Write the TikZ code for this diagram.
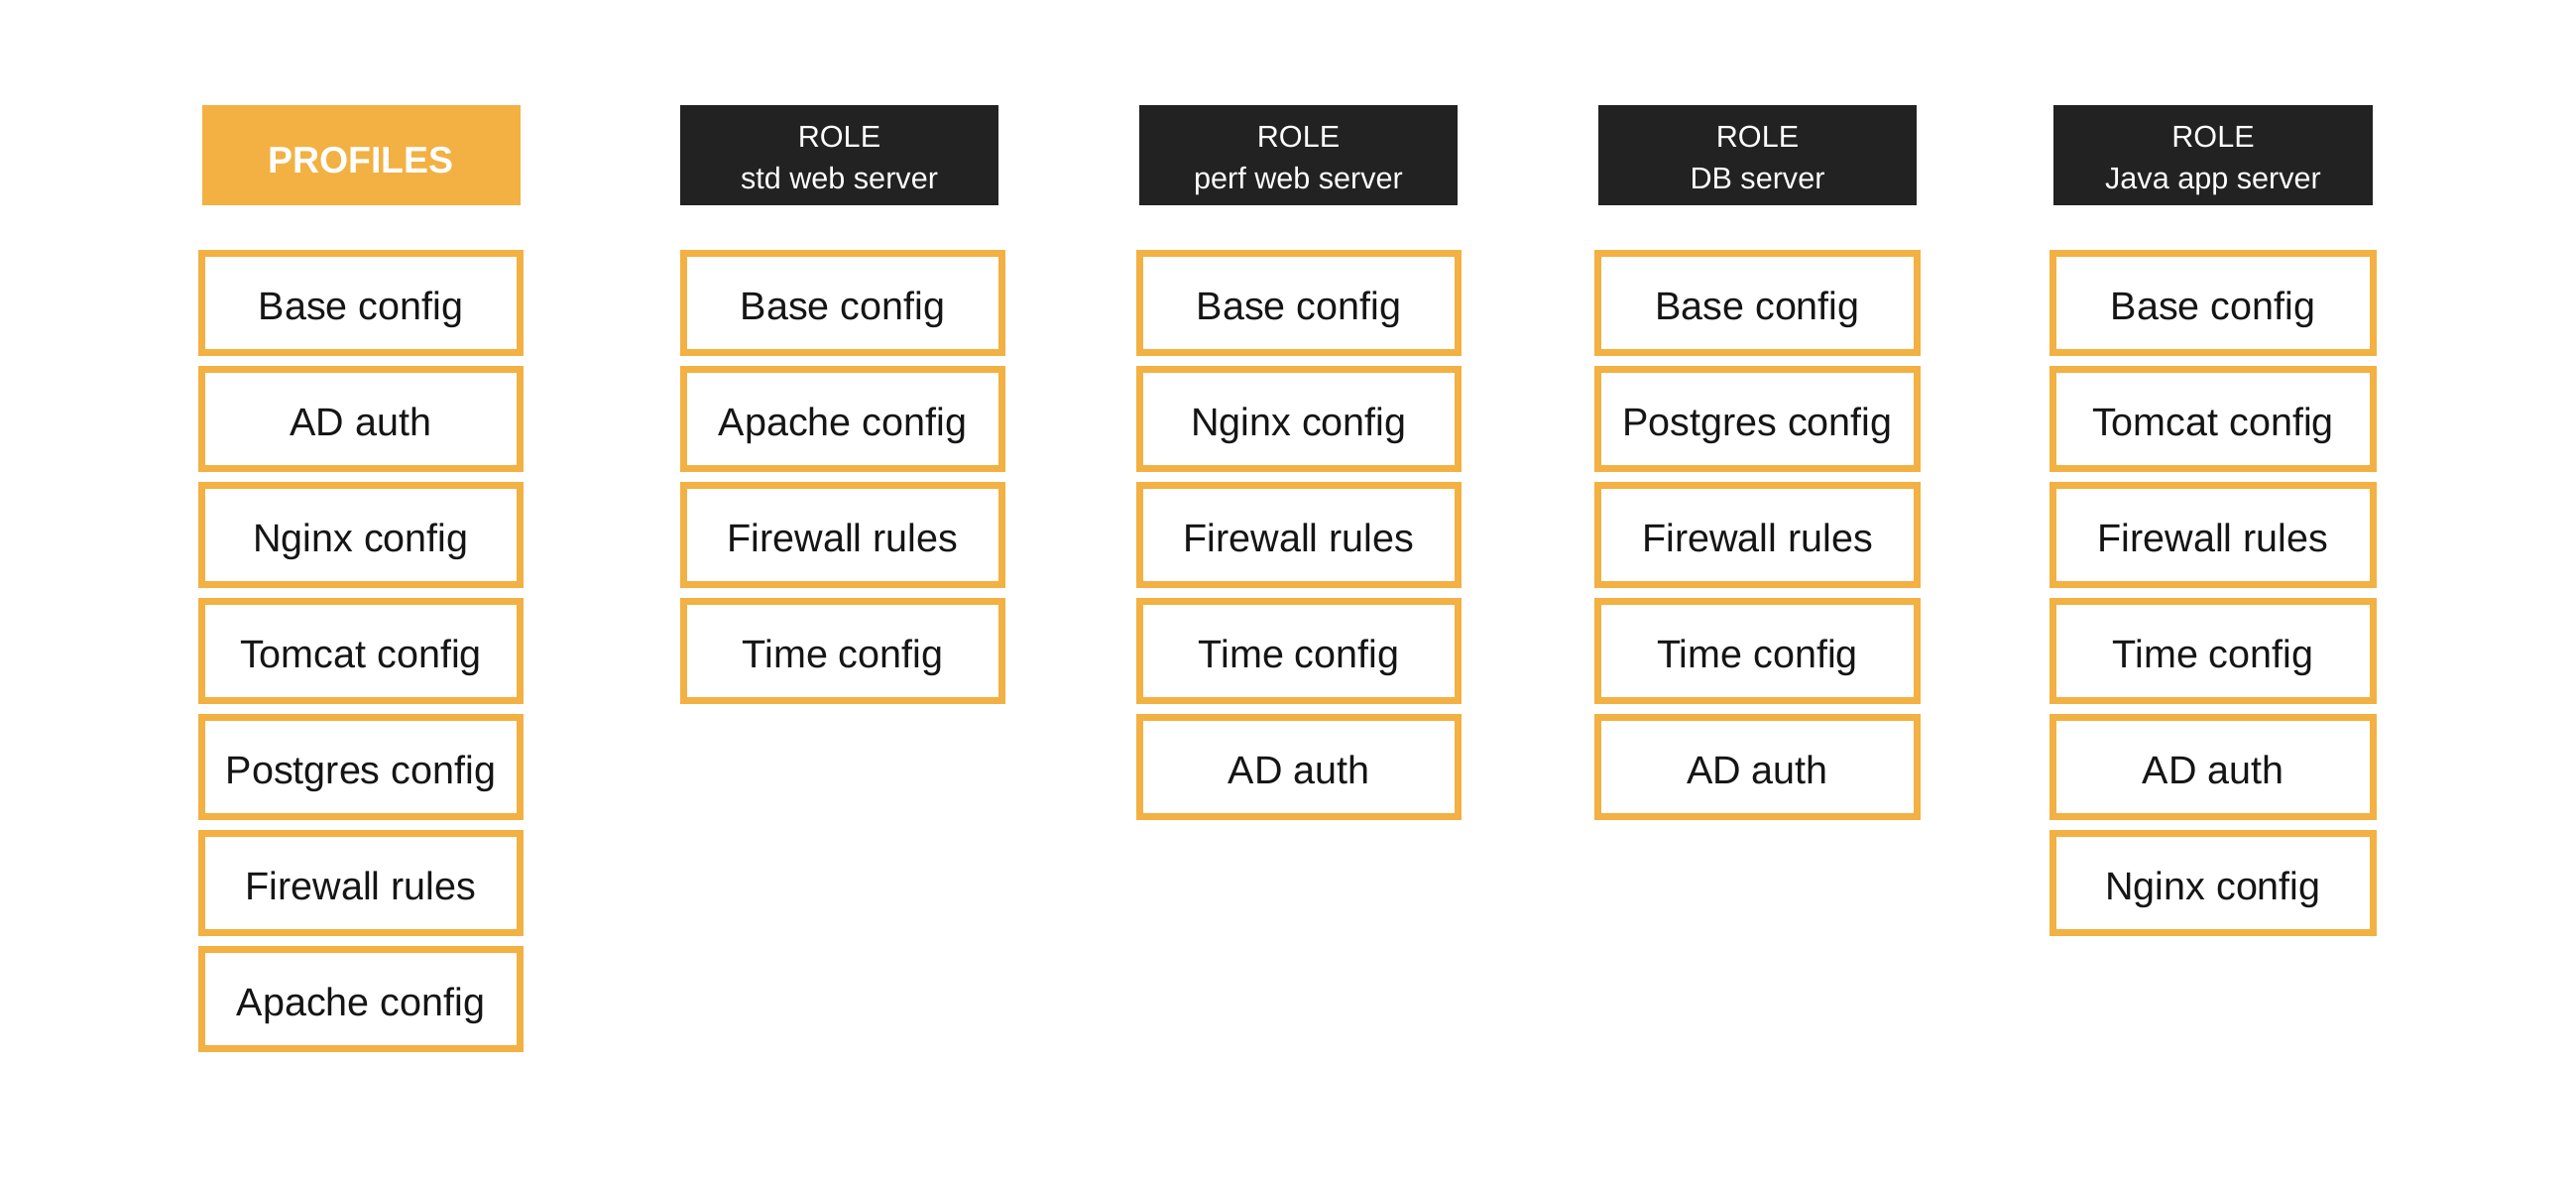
\documentclass[tikz,border=0pt]{standalone}
\usepackage{fontspec}
\setmainfont{Liberation Sans}
\definecolor{orng}{HTML}{F2B142}
\definecolor{dark}{HTML}{222222}
\definecolor{ink}{HTML}{151515}
\tikzset{
  cfg/.style={draw=orng, line width=7pt, fill=white, rectangle, inner sep=0pt, outer sep=0pt,
    minimum width=321pt, minimum height=100pt, text height=33pt, text depth=0pt,
    text=ink, font=\fontsize{39.5}{42}\selectfont},
  rolehead/.style={fill=dark, rectangle, inner sep=0pt, minimum width=321pt, minimum height=101pt},
  profhead/.style={fill=orng, rectangle, inner sep=0pt, minimum width=321pt, minimum height=101pt},
  rolelbl/.style={anchor=base, inner sep=0pt, text=white, font=\fontsize{30.6}{36}\selectfont},
  proflbl/.style={anchor=base, inner sep=0pt, text=white, font=\fontsize{37.5}{40}\selectfont\bfseries},
}
\begin{document}
\begin{tikzpicture}[x=1pt, y=-1pt]
\useasboundingbox (0,0) rectangle (2598,1192);
\fill[white] (0,0) rectangle (2598,1192);
% headers
\node[profhead] (h1) at (364.5,156.5) {};
\node[proflbl] (h1t) at (364,174) {PROFILES};
\node[rolehead] (h2) at (846.5,156.5) {};
\node[rolelbl] (h2a) at (846.5,148) {ROLE};
\node[rolelbl] (h2b) at (846.5,190) {std web server};
\node[rolehead] (h3) at (1309.5,156.5) {};
\node[rolelbl] (h3a) at (1309.5,148) {ROLE};
\node[rolelbl] (h3b) at (1309.5,190) {perf web server};
\node[rolehead] (h4) at (1772.5,156.5) {};
\node[rolelbl] (h4a) at (1772.5,148) {ROLE};
\node[rolelbl] (h4b) at (1772.5,190) {DB server};
\node[rolehead, minimum width=322pt] (h5) at (2232,156.5) {};
\node[rolelbl] (h5a) at (2232,148) {ROLE};
\node[rolelbl] (h5b) at (2232,190) {Java app server};
% columns
\foreach \t [count=\i from 0] in {Base config, AD auth, Nginx config, Tomcat config, Postgres config, Firewall rules, Apache config}
  \node[cfg] (a\i) at ({364},{305.5+117*\i}) {\t};
\foreach \t [count=\i from 0] in {Base config, Apache config, Firewall rules, Time config}
  \node[cfg] (b\i) at ({850},{305.5+117*\i}) {\t};
\foreach \t [count=\i from 0] in {Base config, Nginx config, Firewall rules, Time config, AD auth}
  \node[cfg] (c\i) at ({1310},{305.5+117*\i}) {\t};
\foreach \t [count=\i from 0] in {Base config, Postgres config, Firewall rules, Time config, AD auth}
  \node[cfg, minimum width=322pt] (d\i) at ({1772.5},{305.5+117*\i}) {\t};
\foreach \t [count=\i from 0] in {Base config, Tomcat config, Firewall rules, Time config, AD auth, Nginx config}
  \node[cfg, minimum width=323pt] (e\i) at ({2232},{305.5+117*\i}) {\t};
\end{tikzpicture}
\end{document}
